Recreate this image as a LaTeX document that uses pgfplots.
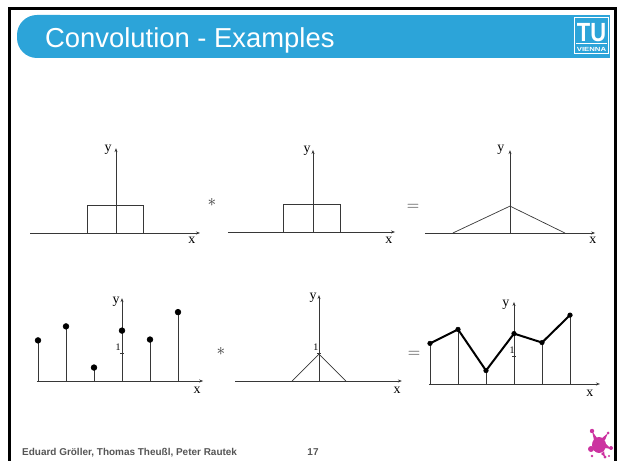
\documentclass[border=0pt]{standalone}
\usepackage{fontspec}
\setmainfont{Liberation Sans}
\newfontfamily\serif{Liberation Serif}
\usepackage{pgfplots}
\pgfplotsset{compat=1.18}
\usetikzlibrary{arrows.meta}

\definecolor{tublue}{RGB}{44,164,217}
\definecolor{splat}{RGB}{204,51,160}
\definecolor{footgray}{RGB}{85,85,85}
\definecolor{ink}{RGB}{55,55,55}

\pgfplotsset{
  sig/.style={
    x=28bp, y=28bp, anchor=origin, axis lines=middle,
    enlargelimits=false, clip=false,
    xtick=\empty, ytick=\empty, ymin=0,
    axis line style={ink, line width=0.7bp, -{Stealth[length=4bp,width=3bp]}},
  },
  unit tick/.style={ytick={1}, yticklabels={}, major tick length=4bp,
    tick align=center, tick style={ink, line width=0.6bp}},
  thin sig/.style={ink, line width=0.7bp, no markers},
}
\tikzset{
  lab/.style={font=\serif\fontsize{14}{14}\selectfont, inner sep=0pt},
  one/.style={font=\serif\fontsize{10}{10}\selectfont, inner sep=0pt},
  op/.style={font=\fontsize{16}{16}\selectfont, inner sep=0pt, text=ink},
}

\begin{document}
\begin{tikzpicture}[x=1bp, y=1bp]
\useasboundingbox (0,0) rectangle (619,461);

% origins of the six panels
\coordinate (o1) at (116,228);
\coordinate (o2) at (313,229);
\coordinate (o3) at (510,228);
\coordinate (o4) at (122,80);
\coordinate (o5) at (319,80);
\coordinate (o6) at (514,77);

% slide frame
\draw[line width=3bp, black] (9.5,0) -- (9.5,452.5) -- (615.5,452.5) -- (615.5,0);

% title bar
\fill[tublue, rounded corners=20bp] (17,403) -- (17,446) -- (80,446) -- (80,403) -- cycle;
\fill[tublue] (50,403) rectangle (610,446);
\node[anchor=base west, text=white, font=\fontsize{27.5}{27.5}\selectfont, inner sep=0pt]
  at (45,413) {Convolution - Examples};

% TU logo
\draw[white, line width=1.4bp] (574.5,407.5) rectangle (608.5,443.5);
\node[text=white, font=\bfseries\fontsize{22}{22}\selectfont, inner sep=0pt, yscale=1.2]
  at (591.5,428.5) {TU};
\draw[white, line width=1bp] (576,417) -- (607,417);
\node[text=white, font=\bfseries\fontsize{6}{6}\selectfont, inner sep=0pt, xscale=1.3]
  at (591.5,412) {VIENNA};

% footer
\node[anchor=base west, text=footgray, font=\bfseries\fontsize{10}{10}\selectfont, inner sep=0pt]
  at (22,5) {Eduard Gröller, Thomas Theußl, Peter Rautek};
\node[anchor=base, text=footgray, font=\bfseries\fontsize{10}{10}\selectfont, inner sep=0pt]
  at (313,5) {17};

% splash logo
\begin{scope}[splat]
  \fill (599,16) ellipse (7 and 8);
  \fill (594,21) -- (592,30) -- (597,23) -- cycle;
  \fill (592,30) circle (2.2);
  \fill (605,21) -- (608,28) -- (601,22) -- cycle;
  \fill (608,28) circle (1.5);
  \fill (605,13) -- (611,12) -- (605,18) -- cycle;
  \fill (611,13) circle (2);
  \fill (591,12) circle (3);
  \fill (601,7) -- (605,4) -- (604,10) -- cycle;
  \fill (605,4) circle (1.6);
  \fill (592,5) circle (1.3);
  \fill (609,5) circle (1.2);
\end{scope}

% ---- top row: box * box = tent ----
\begin{axis}[sig, at={(o1)}, xmin=-3.07, xmax=3, ymax=3.03]
  \addplot[thin sig] coordinates {(-1.04,0) (-1.04,1) (0.96,1) (0.96,0)};
  \node[lab] at (axis cs:-0.28,2.96) {y};
  \node[lab] at (axis cs:2.71,-0.27) {x};
\end{axis}
\node[op] at (212,258.5) {$\ast$};

\begin{axis}[sig, at={(o2)}, xmin=-3.04, xmax=2.93, ymax=2.93]
  \addplot[thin sig] coordinates {(-1.07,0) (-1.07,0.97) (0.96,0.97) (0.96,0)};
  \node[lab] at (axis cs:-0.21,2.9) {y};
  \node[lab] at (axis cs:2.71,-0.29) {x};
\end{axis}
\node[op] at (413,254) {$=$};

\begin{axis}[sig, at={(o3)}, xmin=-3.04, xmax=3.04, ymax=2.96]
  \addplot[thin sig] coordinates {(-2.04,0) (0,0.96) (1.96,0)};
  \node[lab] at (axis cs:-0.33,2.96) {y};
  \node[lab] at (axis cs:2.96,-0.27) {x};
\end{axis}

% ---- bottom row: samples * tent = linear interpolation ----
\begin{axis}[sig, unit tick, at={(o4)}, xmin=-3.04, xmax=2.9, ymax=2.96]
  \addplot[ink, line width=0.7bp, ycomb, mark=*, mark size=2.8bp,
    mark options={fill=black, draw=black}] coordinates {
    (-3,1.45) (-2,1.95) (-1,0.48) (0,1.8) (1,1.48) (2,2.46)};
  \node[lab] at (axis cs:-0.21,2.84) {y};
  \node[lab] at (axis cs:2.68,-0.32) {x};
  \node[one] at (axis cs:-0.14,1.21) {1};
\end{axis}
\node[op] at (221,110) {$\ast$};

\begin{axis}[sig, unit tick, at={(o5)}, xmin=-3, xmax=2.96, ymax=3.07]
  \addplot[thin sig] coordinates {(-0.96,0) (0,0.96) (0.96,0)};
  \node[lab] at (axis cs:-0.21,2.96) {y};
  \node[lab] at (axis cs:2.79,-0.32) {x};
  \node[one] at (axis cs:-0.11,1.21) {1};
\end{axis}
\node[op] at (414,107) {$=$};

\begin{axis}[sig, unit tick, at={(o6)}, xmin=-3.04, xmax=3.07, ymax=2.93]
  \addplot[thin sig, ycomb] coordinates {
    (-3,1.45) (-2,1.95) (-1,0.48) (0,1.8) (1,1.48) (2,2.46)};
  \addplot[black, line width=2bp, mark=*, mark size=2.3bp,
    mark options={fill=black, draw=black, line width=0.5bp}] coordinates {
    (-3,1.45) (-2,1.95) (-1,0.48) (0,1.8) (1,1.48) (2,2.46)};
  \node[lab] at (axis cs:-0.29,2.82) {y};
  \node[lab] at (axis cs:2.71,-0.32) {x};
  \node[one] at (axis cs:-0.07,1.21) {1};
\end{axis}
\end{tikzpicture}
\end{document}
